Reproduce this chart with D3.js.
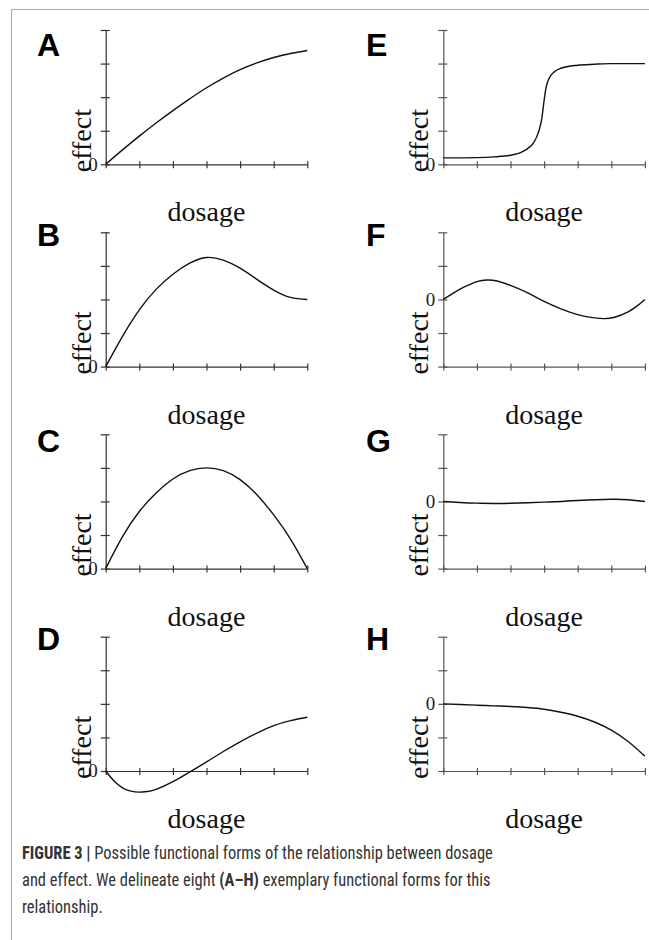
<!DOCTYPE html>
<html>
<head>
<meta charset="utf-8">
<script src="https://cdn.jsdelivr.net/npm/d3@7"></script>
<style>
  body { margin: 0; background: #fff; }
  svg { display: block; }
</style>
</head>
<body>
<svg id="fig" width="649" height="940"></svg>
<script>
// tick values
const dosageTicks = [0, 1, 2, 3, 4, 5, 6];
const effectTicks = [0, 1, 2, 3, 4];
const effectTicksSigned = [-2, -1, 0, 1, 2];

// functional forms, [dosage, effect]
const formA = [[0,0],[0.5,0.43],[1,0.84],[1.5,1.23],[2,1.6],[2.5,1.95],[3,2.28],[3.5,2.57],[4,2.82],[4.5,3.02],[5,3.18],[5.5,3.3],[6,3.39]];
const formB = [[0,0],[0.5,0.9],[1,1.69],[1.5,2.3],[2,2.75],[2.5,3.08],[3,3.25],[3.5,3.17],[4,2.93],[4.5,2.6],[5,2.28],[5.5,2.06],[6,2.0]];
const formC = [[0,0],[0.5,0.95],[1,1.7],[1.5,2.25],[2,2.67],[2.5,2.92],[3,3.0],[3.5,2.92],[4,2.65],[4.5,2.2],[5,1.6],[5.5,0.88],[6,0]];
const formD = [[0,0],[0.25,-0.3],[0.5,-0.5],[0.75,-0.6],[1,-0.63],[1.25,-0.61],[1.5,-0.55],[2,-0.32],[2.5,-0.03],[3,0.27],[3.5,0.58],[4,0.87],[4.5,1.13],[5,1.35],[5.5,1.5],[6,1.6]];
const formE = [[0,0.19],[1,0.2],[1.5,0.22],[2,0.27],[2.3,0.35],[2.5,0.46],[2.7,0.66],[2.83,0.95],[2.93,1.35],[3.0,1.9],[3.06,2.3],[3.15,2.56],[3.3,2.75],[3.5,2.86],[4,2.95],[4.5,2.98],[5,3.0],[6,3.0]];
const formF = [[0,0],[0.25,0.16],[0.5,0.31],[0.75,0.43],[1,0.53],[1.3,0.58],[1.6,0.55],[2,0.42],[2.5,0.2],[3,-0.06],[3.5,-0.28],[4,-0.45],[4.5,-0.55],[4.8,-0.57],[5.1,-0.53],[5.5,-0.37],[5.8,-0.17],[6,0]];
const formG = [[0,0],[0.5,-0.03],[1,-0.05],[1.5,-0.06],[2,-0.055],[3,-0.02],[3.5,0],[4,0.03],[5,0.065],[5.5,0.05],[6,0]];
const formH = [[0,0],[0.5,-0.02],[1,-0.04],[1.5,-0.06],[2,-0.08],[2.5,-0.11],[3,-0.16],[3.5,-0.25],[4,-0.37],[4.5,-0.54],[5,-0.78],[5.5,-1.12],[6,-1.56]];

const panels = [
  { letter: "A", data: formA, col: 0, row: 0, signed: false, curve: d3.curveMonotoneX },
  { letter: "B", data: formB, col: 0, row: 1, signed: false, curve: d3.curveNatural },
  { letter: "C", data: formC, col: 0, row: 2, signed: false, curve: d3.curveNatural },
  { letter: "D", data: formD, col: 0, row: 3, signed: false, curve: d3.curveNatural },
  { letter: "E", data: formE, col: 1, row: 0, signed: false, curve: d3.curveMonotoneX },
  { letter: "F", data: formF, col: 1, row: 1, signed: true,  curve: d3.curveNatural },
  { letter: "G", data: formG, col: 1, row: 2, signed: true,  curve: d3.curveNatural },
  { letter: "H", data: formH, col: 1, row: 3, signed: true,  curve: d3.curveMonotoneX }
];

// layout
const colX = [105.7, 443.3];
const rowTop = [30, 232.3, 434.3, 636.7];
const axisW = 201.6, axisH = 134.3;
const letterX = [37, 366];
const letterBase = [56, 246, 452, 650];

const svg = d3.select("#fig");

// frame
svg.append("path")
  .attr("d", "M11.5,940V9.5H649")
  .attr("fill", "none")
  .attr("stroke", "#a9a9a9")
  .attr("stroke-width", 1);

panels.forEach(p => {
  const g = svg.append("g").attr("transform", `translate(${colX[p.col]},${rowTop[p.row]})`);

  const x = d3.scaleLinear().domain([0, 6]).range([0, axisW]);
  const y = d3.scaleLinear().domain(p.signed ? [-2, 2] : [0, 4]).range([axisH, 0]);

  // y axis
  const ya = g.append("g")
    .call(d3.axisLeft(y).tickValues(p.signed ? effectTicksSigned : effectTicks)
      .tickSize(5).tickSizeOuter(0).tickFormat(""));
  ya.selectAll(".tick line").attr("x1", 4);

  // x axis at bottom
  const xa = g.append("g")
    .attr("transform", `translate(0,${axisH})`)
    .call(d3.axisBottom(x).tickValues(dosageTicks)
      .tickSize(4).tickSizeOuter(0).tickFormat(""));
  xa.selectAll(".tick line").attr("y1", -3);

  [ya, xa].forEach(a => {
    a.selectAll("path, line").attr("stroke", p.col ? "#555" : "#333").attr("stroke-width", 1.2);
  });

  // "0" label
  g.append("text")
    .attr("x", -8)
    .attr("y", y(0))
    .attr("text-anchor", "end")
    .attr("dominant-baseline", "central")
    .attr("font-family", "'Liberation Serif', 'DejaVu Serif', serif")
    .attr("font-size", 19)
    .attr("fill", "#222")
    .text("0");

  // axis titles
  g.append("text")
    .attr("transform", `translate(-15,${axisH + 8}) rotate(-90)`)
    .attr("text-anchor", "start")
    .attr("font-family", "'Liberation Serif', 'DejaVu Serif', serif")
    .attr("font-size", 28)
    .attr("fill", "#111")
    .text("effect");

  g.append("text")
    .attr("x", axisW / 2)
    .attr("y", axisH + 57)
    .attr("text-anchor", "middle")
    .attr("font-family", "'Liberation Serif', 'DejaVu Serif', serif")
    .attr("font-size", 28)
    .attr("fill", "#111")
    .text("dosage");

  // the curve
  const line = d3.line()
    .x(d => x(d[0]))
    .y(d => y(d[1]))
    .curve(p.curve);

  g.append("path")
    .datum(p.data)
    .attr("fill", "none")
    .attr("stroke", "#111")
    .attr("stroke-width", 1.4)
    .attr("d", line);

  // panel letter
  svg.append("text")
    .attr("x", letterX[p.col])
    .attr("y", letterBase[p.row])
    .attr("font-family", "'Liberation Sans', Arial, sans-serif")
    .attr("font-weight", "bold")
    .attr("font-size", 32)
    .attr("fill", "#000")
    .text(p.letter);
});

// caption
const captionLines = [
  [["FIGURE 3 |", true], [" Possible functional forms of the relationship between dosage", false]],
  [["and effect. We delineate eight ", false], ["(A\u2013H)", true], [" exemplary functional forms for this", false]],
  [["relationship.", false]]
];
const captionBase = [859, 886, 913];
const line1Width = 471;

const cap = svg.append("g");
const capTexts = captionLines.map(parts => {
  const t = cap.append("text")
    .attr("font-family", "'Liberation Sans Narrow', 'Roboto Condensed', 'Liberation Sans', sans-serif")
    .attr("font-size", 19)
    .attr("fill", "#333");
  parts.forEach(([s, b]) => {
    t.append("tspan").attr("font-weight", b ? "bold" : "normal").text(s);
  });
  return t;
});
const sx = line1Width / capTexts[0].node().getComputedTextLength();
capTexts.forEach((t, i) => {
  t.attr("transform", `translate(22,${captionBase[i]}) scale(${sx},1)`);
});
</script>
</body>
</html>
